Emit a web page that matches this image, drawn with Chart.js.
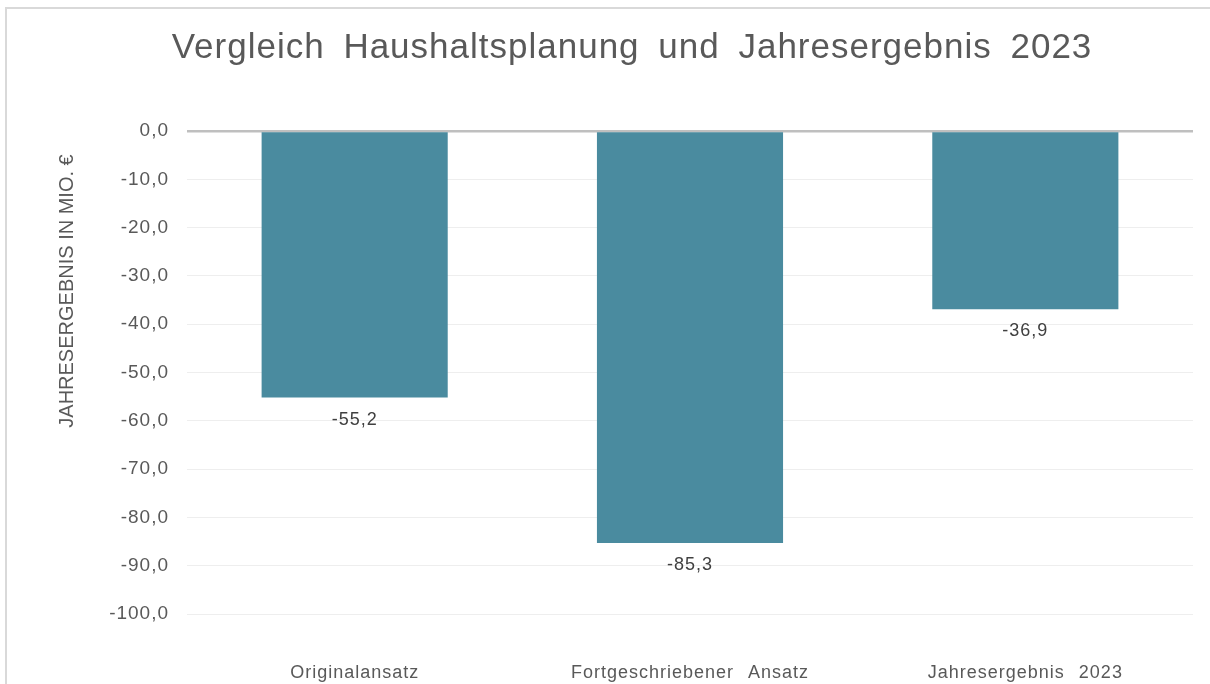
<!DOCTYPE html>
<html>
<head>
<meta charset="utf-8">
<script src="https://cdn.jsdelivr.net/npm/chart.js@4.4.1/dist/chart.umd.min.js"></script>
<style>
  html, body { margin: 0; padding: 0; background: #fff; overflow: hidden; }
  #box {
    position: absolute; left: 5px; top: 7px;
    width: 1250px; height: 720px;
    border: 2px solid #d9d9d9;
  }
</style>
</head>
<body>
<div id="box"><canvas id="barChart" width="1250" height="720"></canvas></div>
<script>
  const categories = ['Originalansatz', 'Fortgeschriebener Ansatz', 'Jahresergebnis 2023'];
  const values = [-55.2, -85.3, -36.9];
  const yMin = -100;
  const yMax = 0;
  const yStep = 10;
  const titleText = 'Vergleich Haushaltsplanung und Jahresergebnis 2023';
  const yTitle = 'JAHRESERGEBNIS IN MIO. €';

  const fmt = v => v.toFixed(1).replace('.', ',');
  const font = 'Liberation Sans, Arial, sans-serif';

  // wider letter / word spacing like the Excel rendering
  const spacing = {
    id: 'spacing',
    beforeDraw(chart) {
      chart.ctx.letterSpacing = '1px';
      chart.ctx.wordSpacing = '8px';
    }
  };

  const valueLabels = {
    id: 'valueLabels',
    afterDatasetsDraw(chart) {
      const ctx = chart.ctx;
      const meta = chart.getDatasetMeta(0);
      ctx.save();
      ctx.font = '18px ' + font;
      ctx.fillStyle = '#404040';
      ctx.textAlign = 'center';
      ctx.textBaseline = 'middle';
      meta.data.forEach((bar, i) => {
        ctx.fillText(fmt(values[i]), bar.x, bar.y + 22);
      });
      ctx.restore();
    }
  };

  const axisTitle = {
    id: 'axisTitle',
    afterDraw(chart) {
      const ctx = chart.ctx;
      ctx.save();
      ctx.letterSpacing = '0px';
      ctx.wordSpacing = '0px';
      ctx.translate(60, chart.chartArea.top + 160);
      ctx.rotate(-Math.PI / 2);
      ctx.font = '20px ' + font;
      ctx.fillStyle = '#595959';
      ctx.textAlign = 'center';
      ctx.textBaseline = 'middle';
      ctx.fillText(yTitle, 0, 0);
      ctx.restore();
    }
  };

  const ctx = document.getElementById('barChart');

  new Chart(ctx, {
    type: 'bar',
    data: {
      labels: categories,
      datasets: [{
        label: 'Jahresergebnis',
        data: values,
        backgroundColor: '#4a8b9f',
        borderWidth: 0,
        categoryPercentage: 1,
        barPercentage: 0.555
      }]
    },
    options: {
      responsive: false,
      animation: false,
      devicePixelRatio: 1,
      layout: { padding: 0 },
      plugins: {
        legend: { display: false },
        tooltip: { enabled: false },
        title: {
          display: true,
          text: titleText,
          color: '#595959',
          font: { family: font, size: 35, weight: 'normal' },
          padding: { top: 18, bottom: 62 }
        }
      },
      scales: {
        x: {
          grid: { display: false, drawTicks: false },
          border: { display: false },
          ticks: {
            color: '#595959',
            font: { family: font, size: 18 },
            padding: 48,
            maxRotation: 0
          },
          afterFit(scale) { scale.height = 115; }
        },
        y: {
          min: yMin,
          max: yMax,
          border: { display: false },
          grid: {
            drawTicks: false,
            color: c => c.tick.value === 0 ? '#bfbfbf' : '#eeeeee',
            lineWidth: c => c.tick.value === 0 ? 2.5 : 1
          },
          ticks: {
            stepSize: yStep,
            color: '#595959',
            font: { family: font, size: 19 },
            padding: 18,
            callback: v => fmt(v)
          },
          afterFit(scale) { scale.width = 180; }
        },
        // empty right-hand strip so the plot ends where the reference does
        y2: {
          position: 'right',
          display: true,
          grid: { display: false, drawTicks: false },
          border: { display: false },
          ticks: { display: false },
          afterFit(scale) { scale.width = 64; }
        }
      }
    },
    plugins: [spacing, valueLabels, axisTitle]
  });
</script>
</body>
</html>
